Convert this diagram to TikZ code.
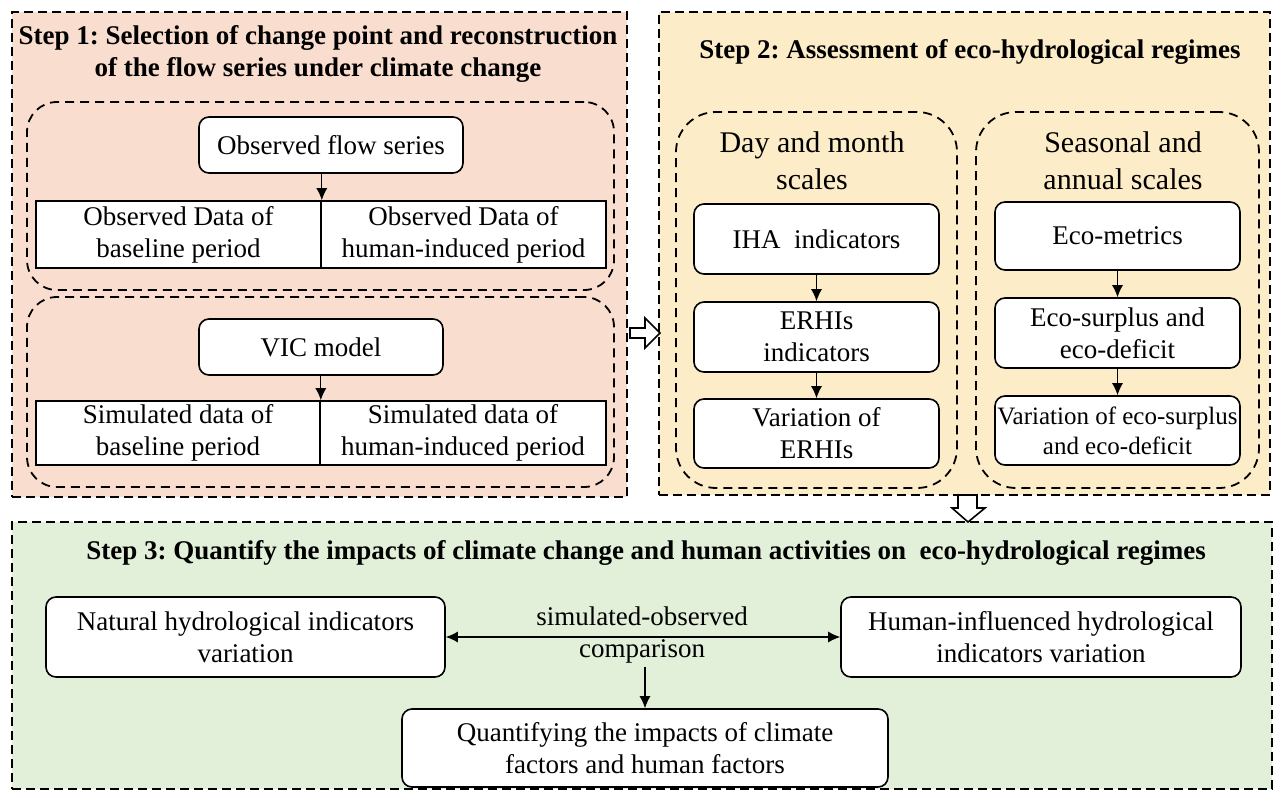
\documentclass[tikz,border=0pt]{standalone}
\usepackage{fontspec}
\setmainfont{Liberation Serif}
\usepackage{xcolor}
\usepackage{tikz}
\usetikzlibrary{shapes,arrows,arrows.meta,positioning,calc}

\definecolor{stepone}{RGB}{249,221,206}
\definecolor{steptwo}{RGB}{252,236,199}
\definecolor{stepthree}{RGB}{226,239,217}

\newcommand{\bodyfont}{\fontsize{27}{32}\selectfont}
\frenchspacing

\tikzset{
    stepbox/.style={draw, dash pattern=on 9pt off 5pt, line width=2.2pt, inner sep=0pt},
    groupbox/.style={draw, dash pattern=on 9pt off 6pt, line width=1.8pt, rounded corners=30pt, inner sep=0pt},
    box/.style={draw, fill=white, rounded corners=10pt, line width=1.6pt, align=center, font=\bodyfont, inner sep=0pt},
    cell/.style={draw, fill=white, line width=1.6pt, align=center, font=\bodyfont, inner sep=0pt},
    title/.style={font=\bodyfont\bfseries, align=center},
    tip/.style={Latex[length=12pt,width=11pt]},
    flow/.style={-{Latex[length=12pt,width=11pt]}, line width=1.2pt},
    blockarrow/.style={draw, fill=white, line width=1.6pt, line join=miter}
}

\begin{document}
\begin{tikzpicture}[x=1pt, y=-1pt]
            \useasboundingbox (0,0) rectangle (1274,792);
            % the three steps
            \node[stepbox, fill=stepone, minimum width=615pt, minimum height=485pt] (step1) at (319.5,254.5) {};
            \node[stepbox, fill=steptwo, minimum width=611pt, minimum height=483pt] (step2) at (964.5,253.5) {};
            \node[stepbox, fill=stepthree, minimum width=1260pt, minimum height=267pt] (step3) at (642,655.5) {};
            \node[title] (title1) at (318,54) {Step 1: Selection of change point and reconstruction\\of the flow series under climate change};
            \node[title] (title2) at (970,52) {Step 2: Assessment of eco-hydrological regimes};
            \node[title] (title3) at (646,553) {Step 3: Quantify the impacts of climate change and human activities on~ eco-hydrological regimes};

            % step 1: observed and simulated flow
            \node[groupbox, minimum width=587pt, minimum height=188pt] (obsgroup) at (320.5,196) {};
            \node[groupbox, minimum width=587pt, minimum height=190pt] (simgroup) at (320.5,392) {};
            \node[box, minimum width=264pt, minimum height=56pt] (obs) at (331,145) {Observed flow series};
            \node[cell, minimum width=285pt, minimum height=67pt] (obsbase) at (178.5,234.5) {Observed Data of\\baseline period};
            \node[cell, minimum width=285pt, minimum height=67pt] (obshuman) at (463.5,234.5) {Observed Data of\\human-induced period};
            \node[box, minimum width=244pt, minimum height=56pt] (vic) at (321,347) {VIC model};
            \node[cell, minimum width=284pt, minimum height=64pt] (simbase) at (178,433) {Simulated data of\\baseline period};
            \node[cell, minimum width=286pt, minimum height=64pt] (simhuman) at (463,433) {Simulated data of\\human-induced period};
            \draw[flow] (obs.south -| obsbase.east) -- (obsbase.north east);
            \draw[flow] (vic.south -| simbase.east) -- (simbase.north east);

            % step 2: two time scales
            \node[groupbox, rounded corners=40pt, minimum width=281pt, minimum height=376pt] (daygroup) at (816.5,300) {};
            \node[groupbox, rounded corners=40pt, minimum width=283pt, minimum height=376pt] (seasongroup) at (1117.5,300) {};
            \node[align=center, font=\fontsize{30}{37}\selectfont] (dayhead) at (812,161) {Day and month\\scales};
            \node[align=center, font=\fontsize{30}{37}\selectfont] (seasonhead) at (1123,161) {Seasonal and\\annual scales};
            \node[box, minimum width=245pt, minimum height=70pt] (iha) at (816.5,239) {IHA~~indicators};
            \node[box, minimum width=245pt, minimum height=70pt] (erhi) at (816.5,337) {ERHIs\\indicators};
            \node[box, minimum width=245pt, minimum height=69pt] (erhivar) at (816.5,433.5) {Variation of\\ERHIs};
            \node[box, minimum width=245pt, minimum height=68pt] (ecom) at (1117.5,236) {Eco-metrics};
            \node[box, minimum width=245pt, minimum height=70pt] (surplus) at (1117.5,333) {Eco-surplus and\\eco-deficit};
            \node[box, minimum width=245pt, minimum height=69pt, font=\fontsize{25}{30}\selectfont] (surplusvar) at (1117.5,430.5) {Variation of eco-surplus\\and eco-deficit};
            \draw[flow] (iha) -- (erhi);
            \draw[flow] (erhi) -- (erhivar);
            \draw[flow] (ecom) -- (surplus);
            \draw[flow] (surplus) -- (surplusvar);

            % step 3: comparison
            \node[box, minimum width=399pt, minimum height=80pt] (natural) at (245.5,637) {Natural hydrological indicators\\variation};
            \node[box, minimum width=400pt, minimum height=80pt] (human) at (1041,637) {Human-influenced hydrological\\indicators variation};
            \node[align=center, font=\bodyfont] (compare) at (642,635) {simulated-observed\\comparison};
            \node[box, minimum width=486pt, minimum height=78pt] (quant) at (645,748) {Quantifying the impacts of climate\\factors and human factors};
            \draw[{Latex[length=12pt,width=11pt]}-{Latex[length=12pt,width=11pt]}, line width=1.2pt] (natural) -- (human);
            \draw[flow] (compare.south -| quant.north) -- (quant.north);

            % hollow arrows between the steps
            \draw[blockarrow] (630,328) -- (645,328) -- (645,318) -- (660,333) -- (645,348) -- (645,338) -- (630,338) -- cycle;
            \draw[blockarrow] (958,495) -- (977,495) -- (977,508) -- (985,508) -- (968,522) -- (952,508) -- (958,508) -- cycle;
        \end{tikzpicture}
\end{document}
